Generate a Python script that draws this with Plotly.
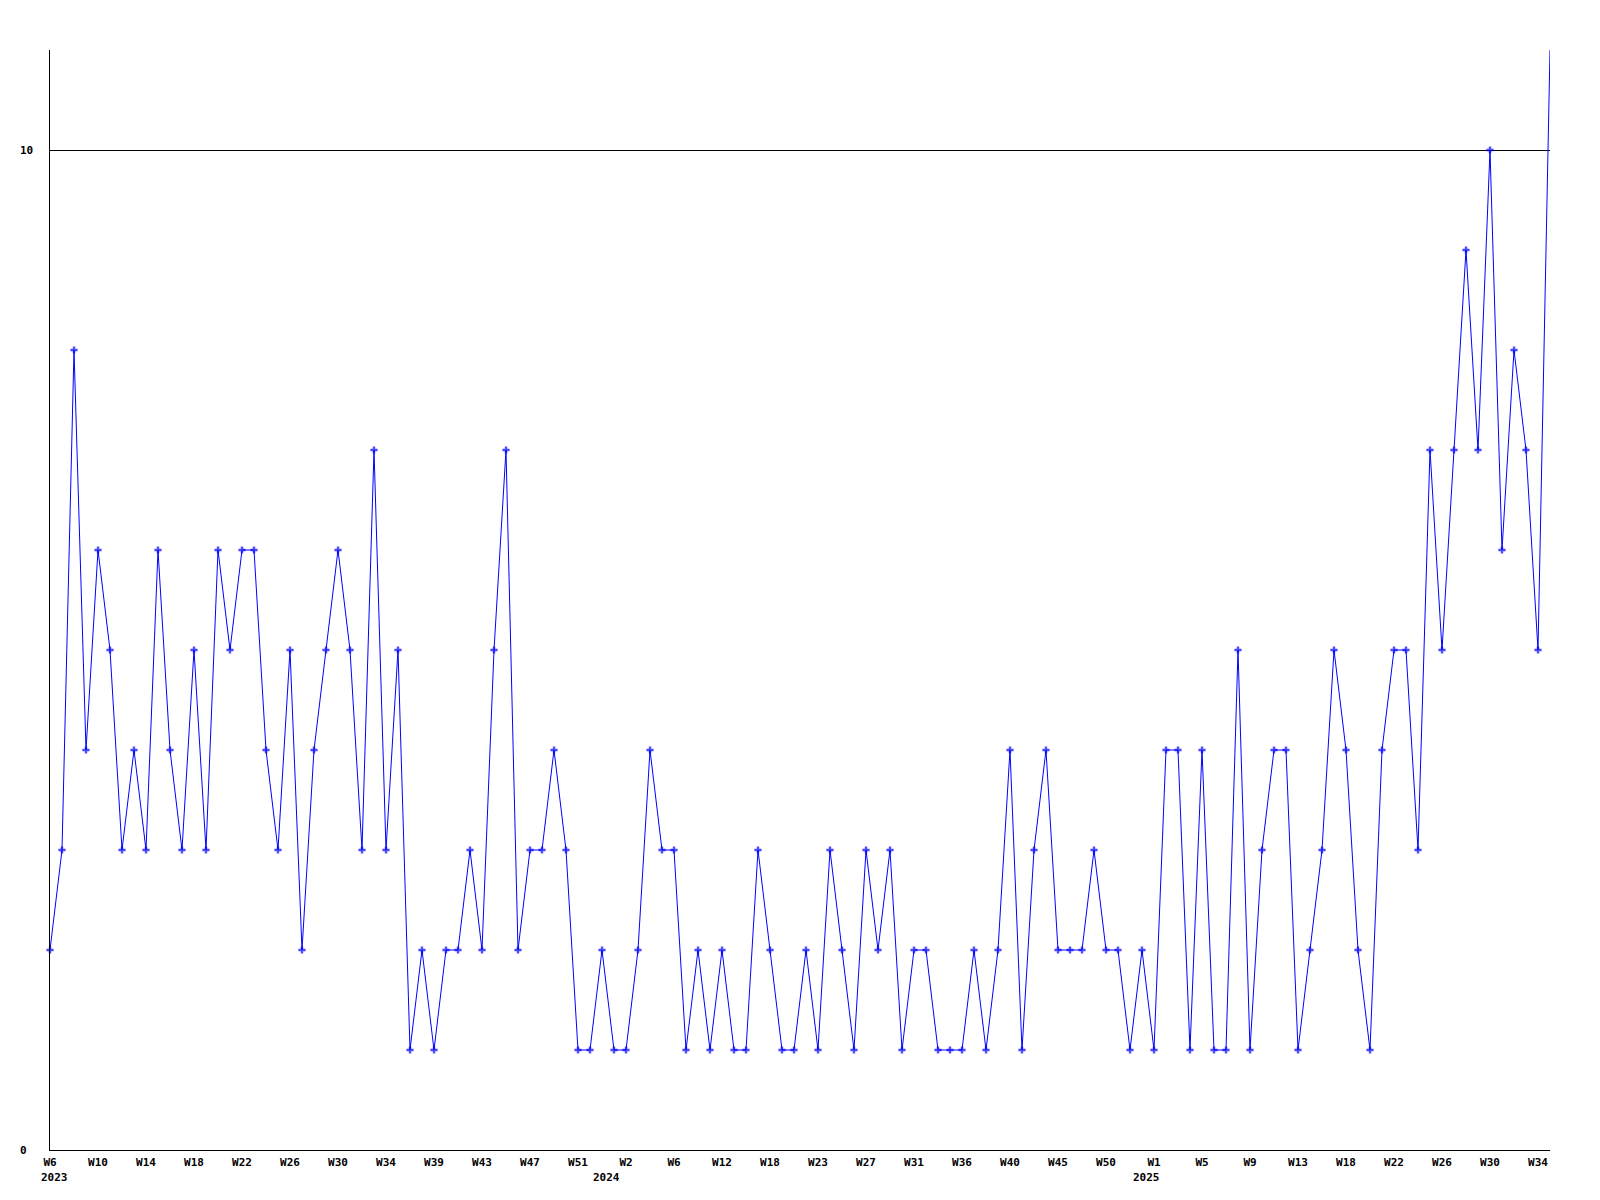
import plotly.graph_objects as go

# Weekly counts (one point per week, in order)
values = [2, 3, 8, 4, 6, 5, 3, 4, 3, 6,
          4, 3, 5, 3, 6, 5, 6, 6, 4, 3,
          5, 2, 4, 5, 6, 5, 3, 7, 3, 5,
          1, 2, 1, 2, 2, 3, 2, 5, 7, 2,
          3, 3, 4, 3, 1, 1, 2, 1, 1, 2,
          4, 3, 3, 1, 2, 1, 2, 1, 1, 3,
          2, 1, 1, 2, 1, 3, 2, 1, 3, 2,
          3, 1, 2, 2, 1, 1, 1, 2, 1, 2,
          4, 1, 3, 4, 2, 2, 2, 3, 2, 2,
          1, 2, 1, 4, 4, 1, 4, 1, 1, 5,
          1, 3, 4, 4, 1, 2, 3, 5, 4, 2,
          1, 4, 5, 5, 3, 7, 5, 7, 9, 7,
          10, 6, 8, 7, 5, 11]

# Week labels shown on the x axis (every 4th week)
tick_labels = ["W6", "W10", "W14", "W18", "W22", "W26", "W30", "W34", "W39", "W43",
               "W47", "W51", "W2", "W6", "W12", "W18", "W23", "W27", "W31", "W36",
               "W40", "W45", "W50", "W1", "W5", "W9", "W13", "W18", "W22", "W26",
               "W30", "W34"]
tick_step = 4

# Year labels and the point index where each year starts
years = ["2023", "2024", "2025"]
year_start = [0, 46, 91]

# y-axis labels
y_ticks = [0, 10]

x = list(range(len(values)))
tickvals = list(range(0, len(tick_labels) * tick_step, tick_step))

marker_sizes = [6] * len(values)
marker_sizes[-1] = 0

font = dict(family="DejaVu Sans Mono", size=11, color="black", weight="bold")

fig = go.Figure()
fig.add_trace(go.Scatter(
    x=x, y=values, mode="lines+markers",
    line=dict(color="#0000ff", width=1),
    marker=dict(symbol="cross", size=marker_sizes, color="#0000ff", line=dict(width=0)),
    cliponaxis=False, showlegend=False, hoverinfo="skip",
))

for yr, idx in zip(years, year_start):
    fig.add_annotation(x=idx, y=0, xref="x", yref="paper", text=yr,
                       showarrow=False, xanchor="center", yanchor="middle",
                       xshift=4, yshift=-27, font=font)

for yv in y_ticks:
    fig.add_annotation(x=0, y=yv, xref="paper", yref="y", text=str(yv),
                       showarrow=False, xanchor="left", yanchor="middle",
                       xshift=-32, font=font)

fig.update_layout(
    width=1584, height=1184,
    margin=dict(l=42, r=42, t=42, b=42),
    paper_bgcolor="white", plot_bgcolor="white",
    xaxis=dict(range=[0, len(values) - 1], tickvals=tickvals, ticktext=tick_labels,
               showgrid=False, zeroline=False, showline=True, linecolor="black",
               linewidth=1, ticks="", tickfont=font, ticklabelstandoff=2),
    yaxis=dict(range=[0, 11], tickvals=y_ticks, showticklabels=False,
               showgrid=True, gridcolor="black", gridwidth=1,
               zeroline=False, showline=True, linecolor="black", linewidth=1,
               ticks=""),
)

fig.write_html("out.html")
